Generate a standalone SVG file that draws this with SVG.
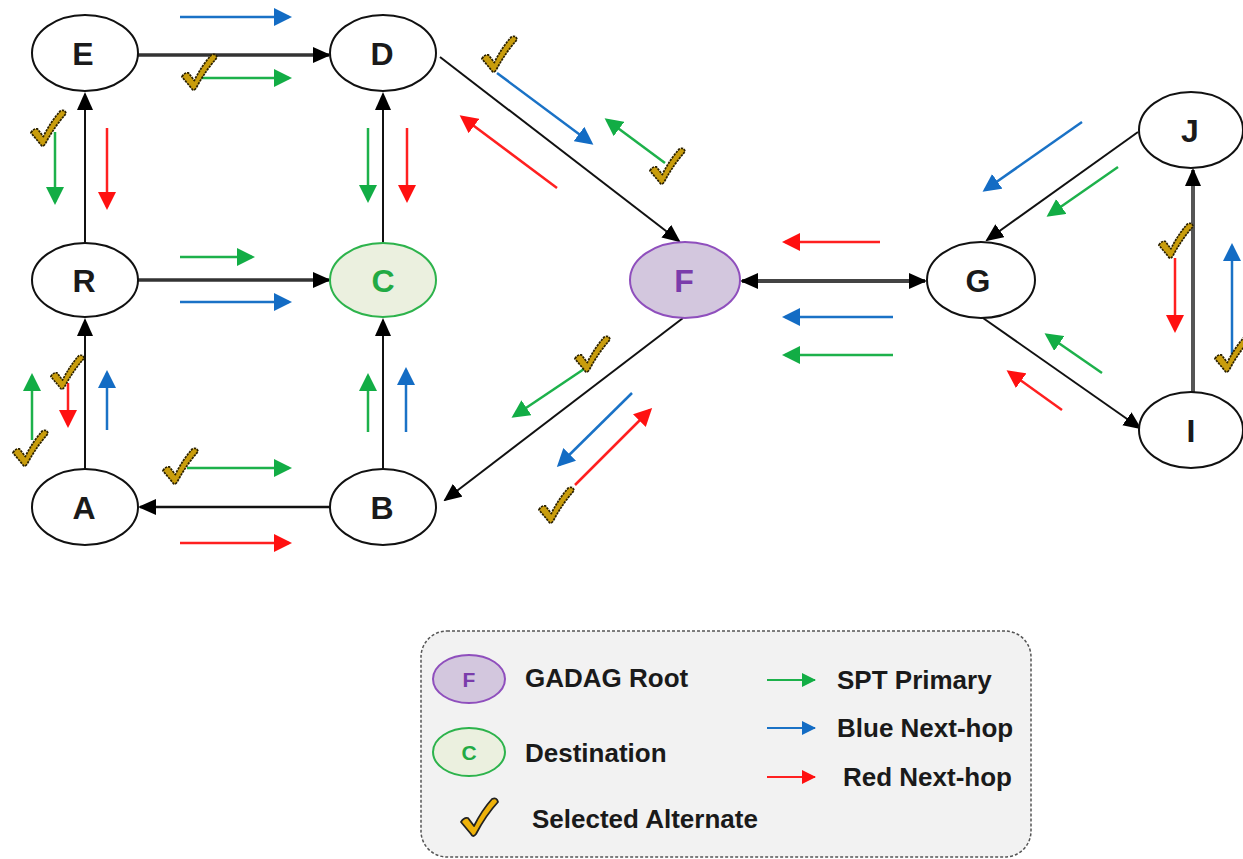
<svg xmlns="http://www.w3.org/2000/svg" xmlns:xlink="http://www.w3.org/1999/xlink" width="1243" height="859" viewBox="0 0 1243 859">
<style>
.node{fill:#fff;stroke:#111;stroke-width:2}
.lbl{font-family:"Liberation Sans",Arial,sans-serif;font-weight:bold;font-size:32px;fill:#1a1a1a;text-anchor:middle}
.edge{fill:none;stroke:#111;stroke-width:2;marker-end:url(#hk)}
.thick{stroke:#333;stroke-width:3.5}
.g{fill:none;stroke:#1db14b;stroke-width:2.5;marker-end:url(#hg)}
.b{fill:none;stroke:#1a72c6;stroke-width:2.5;marker-end:url(#hb)}
.r{fill:none;stroke:#ff2020;stroke-width:2.5;marker-end:url(#hr)}
.lt{font-family:"Liberation Sans",Arial,sans-serif;font-weight:bold;font-size:26px;fill:#1a1a1a}
</style>
<defs>
<marker id="hk" markerUnits="userSpaceOnUse" viewBox="0 0 18 16" markerWidth="18" markerHeight="16" refX="16" refY="8" orient="auto-start-reverse"><path d="M0,0 L18,8 L0,16 z" fill="#000"/></marker>
<marker id="hg" markerUnits="userSpaceOnUse" viewBox="0 0 18 18" markerWidth="18" markerHeight="18" refX="15" refY="9" orient="auto"><path d="M0,0 L18,9 L0,18 z" fill="#12ad45"/></marker>
<marker id="hb" markerUnits="userSpaceOnUse" viewBox="0 0 18 18" markerWidth="18" markerHeight="18" refX="15" refY="9" orient="auto"><path d="M0,0 L18,9 L0,18 z" fill="#136cc4"/></marker>
<marker id="hr" markerUnits="userSpaceOnUse" viewBox="0 0 18 18" markerWidth="18" markerHeight="18" refX="15" refY="9" orient="auto"><path d="M0,0 L18,9 L0,18 z" fill="#ff1010"/></marker>
<marker id="sg" markerUnits="userSpaceOnUse" viewBox="0 0 14 14" markerWidth="14" markerHeight="14" refX="13" refY="7" orient="auto"><path d="M0,0 L14,7 L0,14 z" fill="#12ad45"/></marker>
<marker id="sb" markerUnits="userSpaceOnUse" viewBox="0 0 14 14" markerWidth="14" markerHeight="14" refX="13" refY="7" orient="auto"><path d="M0,0 L14,7 L0,14 z" fill="#136cc4"/></marker>
<marker id="sr" markerUnits="userSpaceOnUse" viewBox="0 0 14 14" markerWidth="14" markerHeight="14" refX="13" refY="7" orient="auto"><path d="M0,0 L14,7 L0,14 z" fill="#ff1010"/></marker>
<symbol id="chk" viewBox="0 0 40 40"><path d="M2,25 Q5,20 9,21 L15,29 Q23,13 33,2 Q38,0 39,5 Q27,18 17,37 Q14,41 12,37 Z" fill="#c99d0c" stroke="#2a2000" stroke-width="1.8" stroke-dasharray="2.5,1" stroke-linejoin="round"/></symbol>
<symbol id="chk2" viewBox="0 0 40 40"><path d="M2,25 Q5,20 9,21 L15,29 Q23,13 33,2 Q38,0 39,5 Q27,18 17,37 Q14,41 12,37 Z" fill="#eeb20a" stroke="#222" stroke-width="1.8" stroke-linejoin="round"/></symbol>
</defs>

<g id="connectors">
<line class="edge thick" x1="138" y1="55" x2="329" y2="55"/>
<line class="edge" x1="85" y1="243" x2="85" y2="94"/>
<line class="edge thick" x1="138" y1="280" x2="329" y2="280"/>
<line class="edge" x1="383" y1="243" x2="383" y2="94"/>
<line class="edge" x1="85" y1="469" x2="85" y2="320"/>
<line class="edge" x1="383" y1="469" x2="383" y2="320"/>
<line class="edge" style="stroke-width:2.5" x1="330" y1="507" x2="140" y2="507"/>
<line class="edge" x1="440" y1="57" x2="679" y2="241"/>
<line class="edge" x1="683" y1="318" x2="445" y2="500"/>
<line class="edge" style="stroke:#444;stroke-width:4;marker-start:url(#hk)" x1="742" y1="281" x2="925" y2="281"/>
<line class="edge" x1="1138" y1="132" x2="987" y2="240"/>
<line class="edge" x1="983" y1="318" x2="1140" y2="428"/>
<line class="edge" style="stroke:#555;stroke-width:4" x1="1193" y1="393" x2="1193" y2="170"/>

<line class="b" x1="180" y1="17" x2="289" y2="17"/>
<line class="b" x1="180" y1="302" x2="289" y2="302"/>
<line class="b" x1="107" y1="430" x2="107" y2="373"/>
<line class="b" x1="406" y1="432" x2="406" y2="370"/>
<line class="b" x1="497" y1="73" x2="591" y2="143"/>
<line class="b" x1="893" y1="317" x2="785" y2="317"/>
<line class="b" x1="632" y1="393" x2="559" y2="465"/>
<line class="b" x1="1082" y1="122" x2="985" y2="190"/>
<line class="b" x1="1232" y1="357" x2="1232" y2="246"/>

<line class="g" x1="200" y1="78" x2="289" y2="78"/>
<line class="g" x1="55" y1="132" x2="55" y2="202"/>
<line class="g" x1="368" y1="128" x2="368" y2="200"/>
<line class="g" x1="180" y1="257" x2="252" y2="257"/>
<line class="g" x1="32" y1="440" x2="32" y2="376"/>
<line class="g" x1="368" y1="432" x2="368" y2="376"/>
<line class="g" x1="187" y1="468" x2="289" y2="468"/>
<line class="g" x1="665" y1="163" x2="607" y2="120"/>
<line class="g" x1="893" y1="355" x2="785" y2="355"/>
<line class="g" x1="587" y1="367" x2="514" y2="416"/>
<line class="g" x1="1118" y1="167" x2="1049" y2="215"/>
<line class="g" x1="1102" y1="373" x2="1047" y2="335"/>

<line class="r" x1="107" y1="128" x2="107" y2="207"/>
<line class="r" x1="407" y1="128" x2="407" y2="200"/>
<line class="r" x1="68" y1="383" x2="68" y2="425"/>
<line class="r" x1="180" y1="543" x2="289" y2="543"/>
<line class="r" x1="557" y1="188" x2="462" y2="117"/>
<line class="r" x1="880" y1="242" x2="785" y2="242"/>
<line class="r" x1="575" y1="485" x2="650" y2="410"/>
<line class="r" x1="1062" y1="410" x2="1009" y2="372"/>
<line class="r" x1="1175" y1="258" x2="1175" y2="330"/>
</g>

<g id="checks">
<use xlink:href="#chk" href="#chk" x="180" y="53" width="38" height="38"/>
<use xlink:href="#chk" href="#chk" x="29" y="109" width="38" height="38"/>
<use xlink:href="#chk" href="#chk" x="11" y="429" width="38" height="38"/>
<use xlink:href="#chk" href="#chk" x="49" y="354" width="36" height="36"/>
<use xlink:href="#chk" href="#chk" x="161" y="447" width="38" height="38"/>
<use xlink:href="#chk" href="#chk" x="480" y="35" width="38" height="38"/>
<use xlink:href="#chk" href="#chk" x="648" y="147" width="38" height="38"/>
<use xlink:href="#chk" href="#chk" x="573" y="335" width="38" height="38"/>
<use xlink:href="#chk" href="#chk" x="537" y="486" width="38" height="38"/>
<use xlink:href="#chk" href="#chk" x="1157" y="222" width="37" height="37"/>
<use xlink:href="#chk" href="#chk" x="1213" y="335" width="38" height="38"/>
</g>

<g id="node-E"><ellipse class="node" cx="85" cy="53" rx="53" ry="38"/><text class="lbl" x="83" y="65">E</text></g>
<g id="node-D"><ellipse class="node" cx="383" cy="53" rx="53" ry="38"/><text class="lbl" x="382" y="65">D</text></g>
<g id="node-R"><ellipse class="node" cx="85" cy="280" rx="53" ry="37"/><text class="lbl" x="84" y="292">R</text></g>
<g id="node-C"><ellipse cx="383" cy="280" rx="53" ry="37" fill="#ebf0df" stroke="#2db34c" stroke-width="2"/><text class="lbl" x="383" y="292" style="fill:#22aa44">C</text></g>
<g id="node-A"><ellipse class="node" cx="85" cy="507" rx="53" ry="38"/><text class="lbl" x="84" y="519">A</text></g>
<g id="node-B"><ellipse class="node" cx="383" cy="507" rx="53" ry="38"/><text class="lbl" x="382" y="519">B</text></g>
<g id="node-F"><ellipse cx="685" cy="280" rx="55" ry="38" fill="#d3c7de" stroke="#8f4fbd" stroke-width="2"/><text class="lbl" x="684" y="292" style="fill:#7a3cab">F</text></g>
<g id="node-G"><ellipse class="node" cx="981" cy="280" rx="54" ry="38"/><text class="lbl" x="978" y="292">G</text></g>
<g id="node-J"><ellipse class="node" cx="1191" cy="130" rx="52" ry="38"/><text class="lbl" x="1190" y="142">J</text></g>
<g id="node-I"><ellipse class="node" cx="1191" cy="430" rx="52" ry="38"/><text class="lbl" x="1191" y="442">I</text></g>

<g id="legend">
<rect x="421" y="631" width="610" height="226" rx="26" fill="#f2f2f2" stroke="#555" stroke-width="1.5" stroke-dasharray="3,2"/>
<ellipse cx="469" cy="679" rx="36" ry="24" fill="#d3c7de" stroke="#8f4fbd" stroke-width="2"/>
<text x="469" y="687" style="font-family:'Liberation Sans',Arial,sans-serif;font-weight:bold;font-size:21px;fill:#7a3cab;text-anchor:middle">F</text>
<ellipse cx="469" cy="752" rx="36" ry="24" fill="#ebf0df" stroke="#2db34c" stroke-width="2"/>
<text x="469" y="760" style="font-family:'Liberation Sans',Arial,sans-serif;font-weight:bold;font-size:21px;fill:#22aa44;text-anchor:middle">C</text>
<use xlink:href="#chk2" href="#chk2" x="459" y="797" width="40" height="40"/>
<text class="lt" x="525" y="687">GADAG Root</text>
<text class="lt" x="525" y="762">Destination</text>
<text class="lt" x="532" y="828">Selected Alternate</text>
<line x1="767" y1="680" x2="815" y2="680" stroke="#1db14b" stroke-width="2" marker-end="url(#sg)"/>
<line x1="767" y1="728" x2="815" y2="728" stroke="#1a72c6" stroke-width="2" marker-end="url(#sb)"/>
<line x1="767" y1="777" x2="815" y2="777" stroke="#ff2020" stroke-width="2" marker-end="url(#sr)"/>
<text class="lt" x="837" y="689">SPT Primary</text>
<text class="lt" x="837" y="737">Blue Next-hop</text>
<text class="lt" x="843" y="786">Red Next-hop</text>
</g>
</svg>
